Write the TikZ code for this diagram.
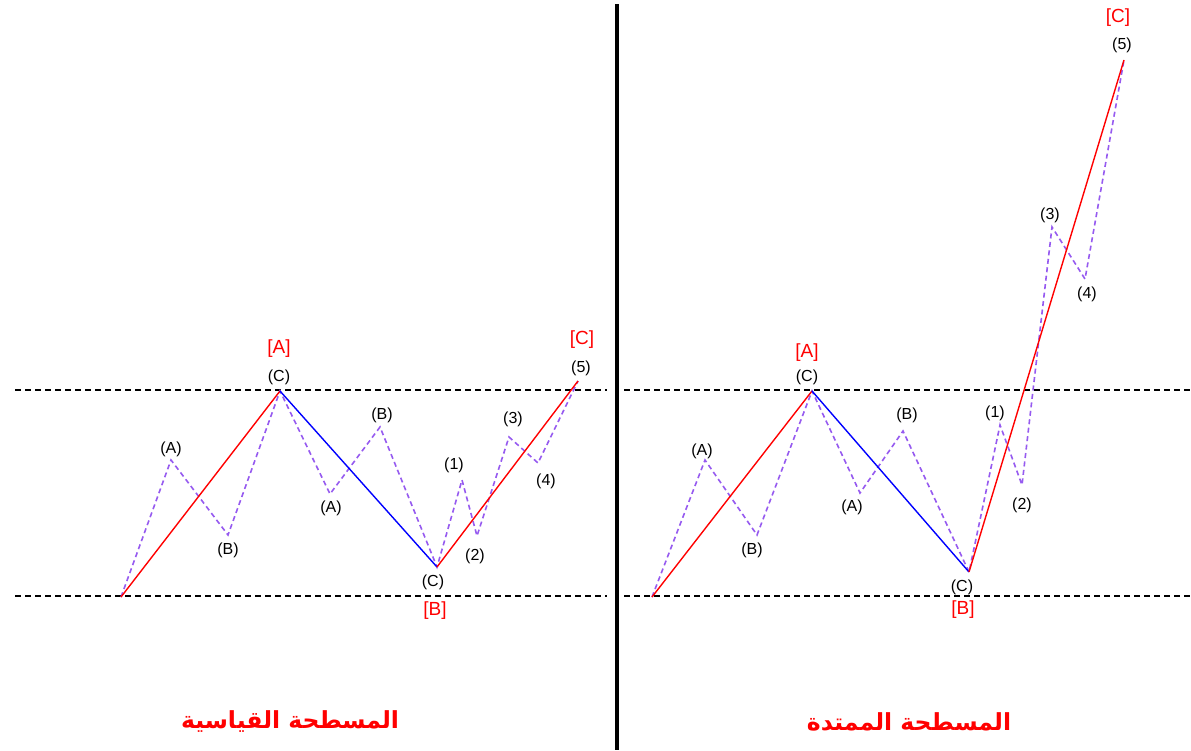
\documentclass[tikz,border=0pt]{standalone}
\usepackage{fontspec}
\setmainfont{Liberation Sans}
\newfontfamily\arabicfont[Script=Arabic]{DejaVu Sans}
\TeXXeTstate=1
\definecolor{wred}{RGB}{255,0,0}
\definecolor{wblue}{RGB}{0,0,255}
\definecolor{wpurple}{RGB}{150,90,240}
\begin{document}
\begin{tikzpicture}[x=1pt,y=-1pt,
  guide/.style={black,line width=1.4pt,dash pattern=on 6pt off 4pt},
  upleg/.style={wred,line width=1.4pt},
  downleg/.style={wblue,line width=1.4pt},
  subwave/.style={wpurple,line width=1.6pt,dash pattern=on 5pt off 3.5pt},
  sublbl/.style={font=\fontsize{16}{16}\selectfont,text=black,inner sep=0pt},
  mainlbl/.style={font=\fontsize{19}{19}\selectfont,text=wred,inner sep=0pt},
  title/.style={font=\arabicfont\bfseries\fontsize{23.5}{28}\selectfont,text=wred,inner sep=0pt}]
\useasboundingbox (0,0) rectangle (1191,750);
\fill[white] (0,0) rectangle (1191,750);
% guide lines
\coordinate (lu1) at (15,390); \coordinate (lu2) at (607,390);
\coordinate (ll1) at (15,596); \coordinate (ll2) at (607,596);
\coordinate (ru1) at (624,390); \coordinate (ru2) at (1191,390);
\coordinate (rl1) at (624,596); \coordinate (rl2) at (1191,596);
\draw[guide] (lu1) -- (lu2);
\draw[guide] (ll1) -- (ll2);
\draw[guide] (ru1) -- (ru2);
\draw[guide] (rl1) -- (rl2);
% divider
\coordinate (dv1) at (617,4); \coordinate (dv2) at (617,750);
\draw[black,line width=4.5pt] (dv1) -- (dv2);
% ---------- left panel ----------
\coordinate (L0) at (121,597);
\coordinate (La) at (171,460);
\coordinate (Lb) at (228,535);
\coordinate (LA) at (280,391);
\coordinate (La2) at (330,494);
\coordinate (Lb2) at (380,427);
\coordinate (LB) at (437,567);
\coordinate (L1) at (462,480);
\coordinate (L2) at (477,536);
\coordinate (L3) at (509,437);
\coordinate (L4) at (538,463);
\coordinate (LC) at (578,381);
\draw[subwave] (L0) -- (La) -- (Lb) -- (LA) -- (La2) -- (Lb2) -- (LB) -- (L1) -- (L2) -- (L3) -- (L4) -- (LC);
\draw[upleg] (L0) -- (LA);
\draw[downleg] (LA) -- (LB);
\draw[upleg] (LB) -- (LC);
\node[sublbl] (lla) at (171,449) {(A)};
\node[sublbl] (llb) at (228,550) {(B)};
\node[sublbl] (llc) at (279,377) {(C)};
\node[mainlbl] (llA) at (279,349) {[A]};
\node[sublbl] (lla2) at (331,508) {(A)};
\node[sublbl] (llb2) at (382,415) {(B)};
\node[sublbl] (llc2) at (433,582) {(C)};
\node[mainlbl] (llB) at (435,611) {[B]};
\node[sublbl] (ll1n) at (454,465) {(1)};
\node[sublbl] (ll2n) at (475,556) {(2)};
\node[sublbl] (ll3n) at (513,419) {(3)};
\node[sublbl] (ll4n) at (546,481) {(4)};
\node[sublbl] (ll5n) at (581,368) {(5)};
\node[mainlbl] (llC) at (582,340) {[C]};
% ---------- right panel ----------
\coordinate (R0) at (652,597);
\coordinate (Ra) at (705,460);
\coordinate (Rb) at (757,535);
\coordinate (RA) at (812,391);
\coordinate (Ra2) at (860,493);
\coordinate (Rb2) at (903,431);
\coordinate (RB) at (969,572);
\coordinate (R1) at (1000,425);
\coordinate (R2) at (1022,485);
\coordinate (R3) at (1052,227);
\coordinate (R4) at (1085,279);
\coordinate (RC) at (1124,60);
\draw[subwave] (R0) -- (Ra) -- (Rb) -- (RA) -- (Ra2) -- (Rb2) -- (RB) -- (R1) -- (R2) -- (R3) -- (R4) -- (RC);
\draw[upleg] (R0) -- (RA);
\draw[downleg] (RA) -- (RB);
\draw[upleg] (RB) -- (RC);
\node[sublbl] (rla) at (702,451) {(A)};
\node[sublbl] (rlb) at (752,550) {(B)};
\node[sublbl] (rlc) at (807,377) {(C)};
\node[mainlbl] (rlA) at (807,353) {[A]};
\node[sublbl] (rla2) at (852,507) {(A)};
\node[sublbl] (rlb2) at (907,415) {(B)};
\node[sublbl] (rlc2) at (962,587) {(C)};
\node[mainlbl] (rlB) at (963,610) {[B]};
\node[sublbl] (rl1n) at (995,413) {(1)};
\node[sublbl] (rl2n) at (1022,505) {(2)};
\node[sublbl] (rl3n) at (1050,215) {(3)};
\node[sublbl] (rl4n) at (1087,294) {(4)};
\node[sublbl] (rl5n) at (1122,45) {(5)};
\node[mainlbl] (rlC) at (1118,18) {[C]};
% titles
\node[title] (t1) at (290,722) {\beginR المسطحة القياسية\endR};
\node[title] (t2) at (909,722) {\beginR المسطحة الممتدة\endR};
\end{tikzpicture}
\end{document}
